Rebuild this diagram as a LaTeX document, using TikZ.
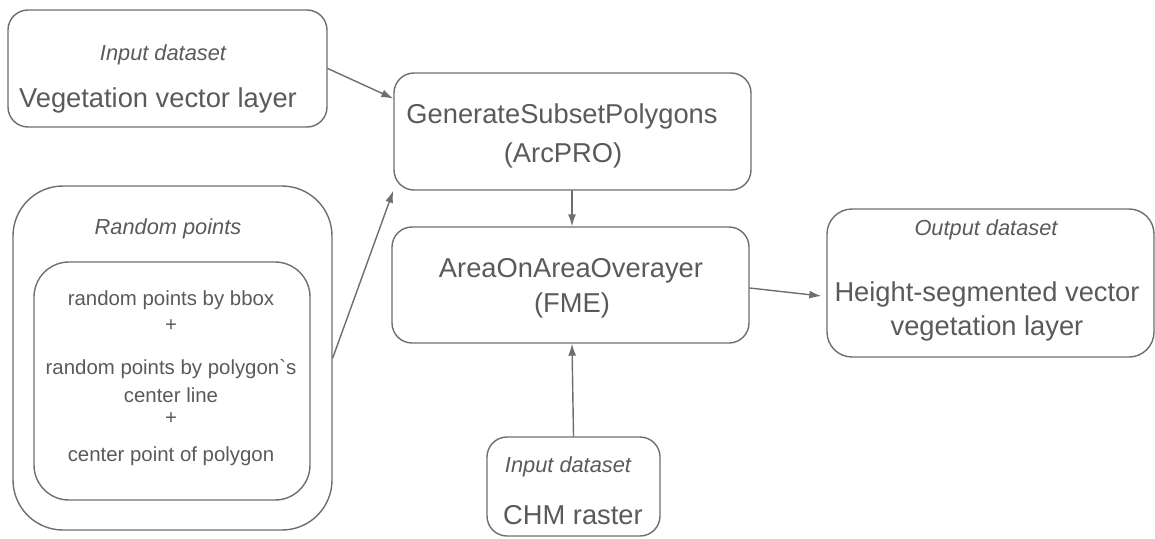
\documentclass[tikz,border=0pt]{standalone}
\usepackage{fontspec}
\setmainfont{Liberation Sans}[Ligatures=TeXOff]
\usetikzlibrary{arrows.meta}
\definecolor{linegray}{HTML}{6E6E6E}
\definecolor{textgray}{HTML}{5A5A5A}
\begin{document}
\begin{tikzpicture}[x=1pt,y=-1pt, line join=round, line cap=round, >={Latex[length=12pt,width=8pt]},
	box/.style={draw=linegray, line width=1.4pt, rounded corners=20pt, inner sep=0pt},
	link/.style={->, draw=linegray, fill=linegray, line width=1.4pt},
	big/.style={text=textgray, font=\fontsize{27.3}{31}\selectfont},
	tag/.style={text=textgray, font=\fontsize{21.8}{25}\selectfont\itshape},
	small/.style={text=textgray, font=\fontsize{20.4}{24}\selectfont}]
	\useasboundingbox (0,0) rectangle (1155,538);
	\node[box, minimum width=319pt, minimum height=117pt] (veg) at (167.5,68.5) {};
	\node[box, minimum width=357pt, minimum height=117pt] (gen) at (572.5,131.5) {};
	\node[box, rounded corners=50pt, minimum width=319pt, minimum height=344pt] (rand) at (172.5,358) {};
	\node[box, rounded corners=35pt, minimum width=276pt, minimum height=238pt] (rinner) at (172,381) {};
	\node[box, minimum width=357pt, minimum height=116pt] (aoa) at (570.5,285) {};
	\node[box, rounded corners=25pt, minimum width=327pt, minimum height=148pt] (out) at (990.5,283) {};
	\node[box, minimum width=173pt, minimum height=99pt] (chm) at (573.5,486.5) {};
	% texts
	\node[tag] (veglbl) at (163,55) {Input dataset};
	\node[big] (vegtxt) at (158,100) {Vegetation vector layer};
	\node[big] (gentxt) at (562,116) {GenerateSubsetPolygons};
	\node[big] (gentool) at (563,155) {(ArcPRO)};
	\node[tag] (randlbl) at (168,229) {Random points};
	\foreach \i/\y/\t in {1/300/random points by bbox,2/326/+,3/369/random points by polygon`s,4/395/center line,5/419/+,6/456/center point of polygon}
		\node[small] (rp\i) at (171,\y) {\t};
	\node[big] (aoatxt) at (571,271) {AreaOnAreaOverayer};
	\node[big] (aoatool) at (572,305) {(FME)};
	\node[tag] (outlbl) at (986,230) {Output dataset};
	\node[big] (outtxt) at (987,294) {Height-segmented vector};
	\node[big] (outtxt2) at (987,328) {vegetation layer};
	\node[tag] (chmlbl) at (568,467) {Input dataset};
	\node[big] (chmtxt) at (573,515) {CHM raster};
	% connectors
	\draw[link] (veg.east) -- ([yshift=33pt]gen.west);
	\draw[link] (rand.east) -- (gen.south west);
	\draw[link] ([xshift=-0.5pt]gen.south) -- ([xshift=1.5pt]aoa.north);
	\draw[link] ([yshift=-3pt]aoa.east) -- ([xshift=-5pt,yshift=-13pt]out.west);
	\draw[link] (chm.north) -- ([xshift=1.5pt]aoa.south);
\end{tikzpicture}
\end{document}
